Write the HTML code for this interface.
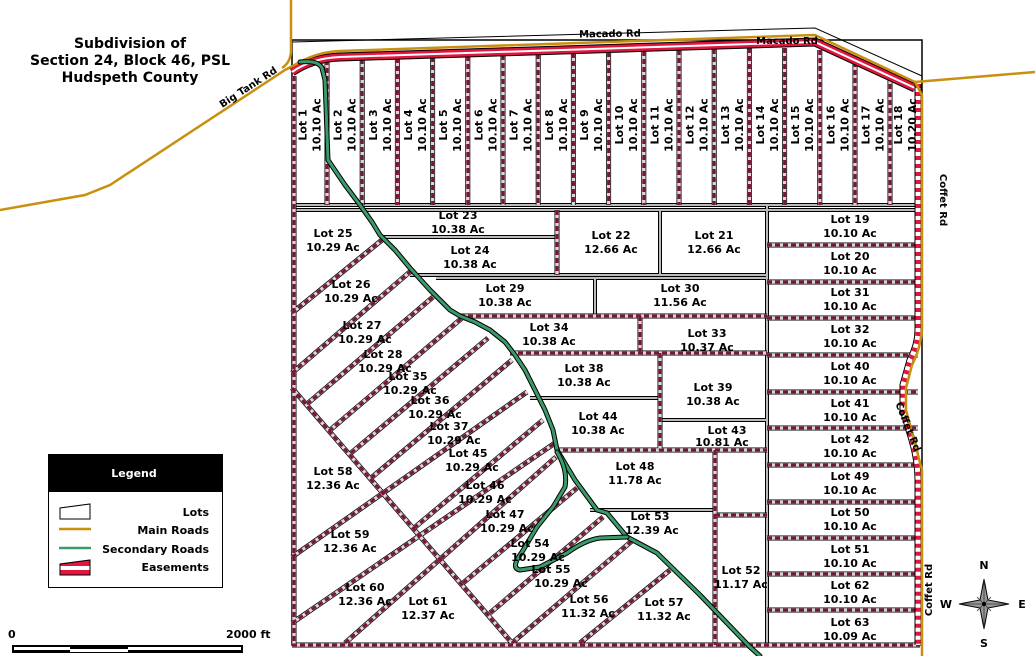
<!DOCTYPE html>
<html><head><meta charset="utf-8"><style>
html,body{margin:0;padding:0;background:#fff;}
svg{display:block;}
text{font-family:"DejaVu Sans","Liberation Sans",sans-serif;font-weight:bold;font-size:11px;fill:#000;}
</style></head><body>
<svg width="1035" height="656" viewBox="0 0 1035 656" xmlns="http://www.w3.org/2000/svg">
<defs>
<g id="eas" fill="none">
  <line x1="294" y1="76" x2="294" y2="645"/>
  <line x1="327" y1="60" x2="327" y2="205"/><line x1="362.2" y1="59" x2="362.2" y2="205"/>
  <line x1="397.4" y1="58" x2="397.4" y2="205"/><line x1="432.6" y1="57" x2="432.6" y2="205"/>
  <line x1="467.8" y1="56" x2="467.8" y2="205"/><line x1="503" y1="55" x2="503" y2="205"/>
  <line x1="538.2" y1="54" x2="538.2" y2="205"/><line x1="573.4" y1="53" x2="573.4" y2="205"/>
  <line x1="608.6" y1="52" x2="608.6" y2="205"/><line x1="643.8" y1="51" x2="643.8" y2="205"/>
  <line x1="679" y1="50" x2="679" y2="205"/><line x1="714.2" y1="49" x2="714.2" y2="205"/>
  <line x1="749.4" y1="48" x2="749.4" y2="205"/><line x1="784.6" y1="48" x2="784.6" y2="205"/>
  <line x1="819.8" y1="50" x2="819.8" y2="205"/><line x1="855" y1="62" x2="855" y2="205"/>
  <line x1="890" y1="76" x2="890" y2="205"/>
  <line x1="767" y1="245" x2="918" y2="245"/><line x1="767" y1="282" x2="918" y2="282"/>
  <line x1="767" y1="318" x2="918" y2="318"/><line x1="767" y1="355" x2="918" y2="355"/>
  <line x1="767" y1="392" x2="918" y2="392"/><line x1="767" y1="428" x2="918" y2="428"/>
  <line x1="767" y1="465" x2="918" y2="465"/><line x1="767" y1="502" x2="918" y2="502"/>
  <line x1="767" y1="538" x2="918" y2="538"/><line x1="767" y1="574" x2="918" y2="574"/>
  <line x1="767" y1="610" x2="918" y2="610"/>
  <line x1="557" y1="210" x2="557" y2="275"/>
  <line x1="460" y1="316" x2="767" y2="316"/>
  <line x1="510" y1="353" x2="767" y2="353"/>
  <line x1="555" y1="450" x2="767" y2="450"/>
  <line x1="715" y1="450" x2="715" y2="645"/>
  <line x1="715" y1="515" x2="767" y2="515"/>
  <line x1="660" y1="353" x2="660" y2="450"/>
  <line x1="640" y1="316" x2="640" y2="353"/>
  <line x1="292" y1="388" x2="512" y2="643"/>
  <line x1="292" y1="313" x2="382" y2="240"/>
  <line x1="292" y1="373" x2="412" y2="270"/>
  <line x1="307" y1="404" x2="433" y2="297"/>
  <line x1="329" y1="431" x2="462" y2="318"/>
  <line x1="351" y1="453" x2="488" y2="338"/>
  <line x1="371" y1="478" x2="512" y2="360"/>
  <line x1="292" y1="557" x2="527" y2="392"/>
  <line x1="414" y1="528" x2="543" y2="420"/>
  <line x1="292" y1="623" x2="555" y2="443"/>
  <line x1="345" y1="643" x2="556" y2="457"/>
  <line x1="463" y1="583" x2="577" y2="488"/>
  <line x1="490" y1="613" x2="603" y2="517"/>
  <line x1="512" y1="643" x2="633" y2="540"/>
  <line x1="580" y1="643" x2="670" y2="570"/>
  <line x1="292" y1="645" x2="920" y2="645"/>
</g>
<g id="lotl" fill="none">
  <line x1="292" y1="205" x2="920" y2="205"/>
  <line x1="292" y1="210" x2="920" y2="210"/>
  <line x1="380" y1="237" x2="557" y2="237"/>
  <line x1="410" y1="275" x2="767" y2="275"/>
  <line x1="660" y1="210" x2="660" y2="275"/>
  <line x1="767" y1="205" x2="767" y2="645"/>
  <line x1="595" y1="278" x2="595" y2="316"/>
  <line x1="530" y1="398" x2="660" y2="398"/>
  <line x1="660" y1="420" x2="767" y2="420"/>
  <line x1="590" y1="510" x2="715" y2="510"/>
  <line x1="436" y1="278" x2="767" y2="278"/>
</g>
</defs>

<path d="M292,645 L292,40 L922,40 L922,645 Z" fill="none" stroke="#000" stroke-width="1.5"/>
<path d="M292,42 L815,28 L922,76" fill="none" stroke="#000" stroke-width="1"/>

<use href="#lotl" stroke="#000" stroke-width="4"/>
<use href="#lotl" stroke="#bbb" stroke-width="2"/>
<use href="#eas" stroke="#000" stroke-width="5"/>
<use href="#eas" stroke="#d8d8d8" stroke-width="3.5"/>
<use href="#eas" stroke="#7a1533" stroke-width="3" stroke-dasharray="5 3"/>

<!-- road easement band (top), below the road -->
<path d="M292,72 Q312,58 340,57 L815,42 L915,88" fill="none" stroke="#000" stroke-width="9"/>
<path d="M292,72 Q312,58 340,57 L815,42 L915,88" fill="none" stroke="#e0163e" stroke-width="7"/>
<path d="M292,72 Q312,58 340,57 L815,42 L915,88" fill="none" stroke="#fff" stroke-width="2"/>
<path d="M918,84 L918,330 Q918,345 910,360 L903,385 L903,410 L912,440 Q918,460 918,480 L918,645" fill="none" stroke="#000" stroke-width="7"/>
<path d="M918,84 L918,330 Q918,345 910,360 L903,385 L903,410 L912,440 Q918,460 918,480 L918,645" fill="none" stroke="#fff" stroke-width="5"/>
<path d="M918,84 L918,330 Q918,345 910,360 L903,385 L903,410 L912,440 Q918,460 918,480 L918,645" fill="none" stroke="#e0163e" stroke-width="5" stroke-dasharray="4 4"/>

<g fill="none" stroke="#c8900e" stroke-width="2.5">
  <path d="M0,210 L85,195 L110,185 L285,70 L300,62 Q318,52 340,51 L815,35 L915,82"/>
  <path d="M291,0 L291,52 Q290,63 282,68"/>
  <path d="M915,82 L1035,72"/>
  <path d="M915,82 L922,95 L922,330 Q920,350 912,365 L906,388 L906,410 Q914,440 922,470 L922,656"/>
</g>

<g fill="none" stroke-linejoin="round" stroke-linecap="round">
  <path d="M300,62 Q318,60 322,68 L325,80 L328,160 L345,185 L360,205 L372,222 L380,235 L395,250 L410,268 L430,290 L450,310 L460,316 L475,322 L490,330 L505,342 L515,355 L525,370 L535,390 L545,410 L553,430 L557,450 L575,480 L597,510 L607,513 L627,537 L657,553 L700,595 L750,647 L760,656" stroke="#000" stroke-width="5"/>
  <path d="M300,62 Q318,60 322,68 L325,80 L328,160 L345,185 L360,205 L372,222 L380,235 L395,250 L410,268 L430,290 L450,310 L460,316 L475,322 L490,330 L505,342 L515,355 L525,370 L535,390 L545,410 L553,430 L557,450 L575,480 L597,510 L607,513 L627,537 L657,553 L700,595 L750,647 L760,656" stroke="#3a9a6a" stroke-width="3"/>
  <path d="M557,452 Q568,470 565,487 L553,507 L537,527 L522,552 Q510,568 520,570 L540,567 L567,553 Q585,540 600,538 L627,537" stroke="#000" stroke-width="5"/>
  <path d="M557,452 Q568,470 565,487 L553,507 L537,527 L522,552 Q510,568 520,570 L540,567 L567,553 Q585,540 600,538 L627,537" stroke="#3a9a6a" stroke-width="3"/>
</g>

<g text-anchor="middle">
<text x="130" y="48" style="font-size:14px">Subdivision of</text>
<text x="130" y="65" style="font-size:14px">Section 24, Block 46, PSL</text>
<text x="130" y="82" style="font-size:14px">Hudspeth County</text>
</g>

<text x="610" y="37" text-anchor="middle" style="font-size:10px" transform="rotate(-1 610 37)">Macado Rd</text>
<text x="787" y="44" text-anchor="middle" style="font-size:10px">Macado Rd</text>
<text x="250" y="90" text-anchor="middle" style="font-size:10px" transform="rotate(-33 250 90)">Big Tank Rd</text>
<text x="940" y="200" text-anchor="middle" style="font-size:10px" transform="rotate(90 940 200)">Coffet Rd</text>
<text x="905" y="428" text-anchor="middle" style="font-size:10px" transform="rotate(68 905 428)">Coffet Rd</text>
<text x="932" y="590" text-anchor="middle" style="font-size:10px" transform="rotate(-90 932 590)">Coffet Rd</text>

<g text-anchor="middle">
<g transform="translate(309.5,125) rotate(-90)"><text x="0" y="-3">Lot 1</text><text x="0" y="11">10.10 Ac</text></g>
<g transform="translate(344.6,125) rotate(-90)"><text x="0" y="-3">Lot 2</text><text x="0" y="11">10.10 Ac</text></g>
<g transform="translate(379.8,125) rotate(-90)"><text x="0" y="-3">Lot 3</text><text x="0" y="11">10.10 Ac</text></g>
<g transform="translate(415,125) rotate(-90)"><text x="0" y="-3">Lot 4</text><text x="0" y="11">10.10 Ac</text></g>
<g transform="translate(450.2,125) rotate(-90)"><text x="0" y="-3">Lot 5</text><text x="0" y="11">10.10 Ac</text></g>
<g transform="translate(485.4,125) rotate(-90)"><text x="0" y="-3">Lot 6</text><text x="0" y="11">10.10 Ac</text></g>
<g transform="translate(520.6,125) rotate(-90)"><text x="0" y="-3">Lot 7</text><text x="0" y="11">10.10 Ac</text></g>
<g transform="translate(555.8,125) rotate(-90)"><text x="0" y="-3">Lot 8</text><text x="0" y="11">10.10 Ac</text></g>
<g transform="translate(591,125) rotate(-90)"><text x="0" y="-3">Lot 9</text><text x="0" y="11">10.10 Ac</text></g>
<g transform="translate(626.2,125) rotate(-90)"><text x="0" y="-3">Lot 10</text><text x="0" y="11">10.10 Ac</text></g>
<g transform="translate(661.4,125) rotate(-90)"><text x="0" y="-3">Lot 11</text><text x="0" y="11">10.10 Ac</text></g>
<g transform="translate(696.6,125) rotate(-90)"><text x="0" y="-3">Lot 12</text><text x="0" y="11">10.10 Ac</text></g>
<g transform="translate(731.8,125) rotate(-90)"><text x="0" y="-3">Lot 13</text><text x="0" y="11">10.10 Ac</text></g>
<g transform="translate(767,125) rotate(-90)"><text x="0" y="-3">Lot 14</text><text x="0" y="11">10.10 Ac</text></g>
<g transform="translate(802.2,125) rotate(-90)"><text x="0" y="-3">Lot 15</text><text x="0" y="11">10.10 Ac</text></g>
<g transform="translate(837.4,125) rotate(-90)"><text x="0" y="-3">Lot 16</text><text x="0" y="11">10.10 Ac</text></g>
<g transform="translate(872.6,125) rotate(-90)"><text x="0" y="-3">Lot 17</text><text x="0" y="11">10.10 Ac</text></g>
<g transform="translate(905,125) rotate(-90)"><text x="0" y="-3">Lot 18</text><text x="0" y="11">10.20 Ac</text></g>
</g>

<g text-anchor="middle">
<text x="850" y="223">Lot 19</text><text x="850" y="237">10.10 Ac</text>
<text x="850" y="260">Lot 20</text><text x="850" y="274">10.10 Ac</text>
<text x="850" y="296">Lot 31</text><text x="850" y="310">10.10 Ac</text>
<text x="850" y="333">Lot 32</text><text x="850" y="347">10.10 Ac</text>
<text x="850" y="370">Lot 40</text><text x="850" y="384">10.10 Ac</text>
<text x="850" y="407">Lot 41</text><text x="850" y="421">10.10 Ac</text>
<text x="850" y="443">Lot 42</text><text x="850" y="457">10.10 Ac</text>
<text x="850" y="480">Lot 49</text><text x="850" y="494">10.10 Ac</text>
<text x="850" y="516">Lot 50</text><text x="850" y="530">10.10 Ac</text>
<text x="850" y="553">Lot 51</text><text x="850" y="567">10.10 Ac</text>
<text x="850" y="589">Lot 62</text><text x="850" y="603">10.10 Ac</text>
<text x="850" y="626">Lot 63</text><text x="850" y="640">10.09 Ac</text>

<text x="333" y="237">Lot 25</text><text x="333" y="251">10.29 Ac</text>
<text x="458" y="219">Lot 23</text><text x="458" y="233">10.38 Ac</text>
<text x="470" y="254">Lot 24</text><text x="470" y="268">10.38 Ac</text>
<text x="611" y="239">Lot 22</text><text x="611" y="253">12.66 Ac</text>
<text x="714" y="239">Lot 21</text><text x="714" y="253">12.66 Ac</text>
<text x="505" y="292">Lot 29</text><text x="505" y="306">10.38 Ac</text>
<text x="680" y="292">Lot 30</text><text x="680" y="306">11.56 Ac</text>
<text x="549" y="331">Lot 34</text><text x="549" y="345">10.38 Ac</text>
<text x="707" y="337">Lot 33</text><text x="707" y="351">10.37 Ac</text>
<text x="584" y="372">Lot 38</text><text x="584" y="386">10.38 Ac</text>
<text x="713" y="391">Lot 39</text><text x="713" y="405">10.38 Ac</text>
<text x="598" y="420">Lot 44</text><text x="598" y="434">10.38 Ac</text>
<text x="727" y="434">Lot 43</text><text x="722" y="446">10.81 Ac</text>
<text x="635" y="470">Lot 48</text><text x="635" y="484">11.78 Ac</text>
<text x="650" y="520">Lot 53</text><text x="652" y="534">12.39 Ac</text>
<text x="741" y="574">Lot 52</text><text x="741" y="588">11.17 Ac</text>
<text x="351" y="288">Lot 26</text><text x="351" y="302">10.29 Ac</text>
<text x="362" y="329">Lot 27</text><text x="365" y="343">10.29 Ac</text>
<text x="383" y="358">Lot 28</text><text x="385" y="372">10.29 Ac</text>
<text x="408" y="380">Lot 35</text><text x="410" y="394">10.29 Ac</text>
<text x="430" y="404">Lot 36</text><text x="435" y="418">10.29 Ac</text>
<text x="449" y="430">Lot 37</text><text x="454" y="444">10.29 Ac</text>
<text x="468" y="457">Lot 45</text><text x="472" y="471">10.29 Ac</text>
<text x="485" y="489">Lot 46</text><text x="485" y="503">10.29 Ac</text>
<text x="505" y="518">Lot 47</text><text x="507" y="532">10.29 Ac</text>
<text x="530" y="547">Lot 54</text><text x="538" y="561">10.29 Ac</text>
<text x="551" y="573">Lot 55</text><text x="561" y="587">10.29 Ac</text>
<text x="589" y="603">Lot 56</text><text x="588" y="617">11.32 Ac</text>
<text x="664" y="606">Lot 57</text><text x="664" y="620">11.32 Ac</text>
<text x="333" y="475">Lot 58</text><text x="333" y="489">12.36 Ac</text>
<text x="350" y="538">Lot 59</text><text x="350" y="552">12.36 Ac</text>
<text x="365" y="591">Lot 60</text><text x="365" y="605">12.36 Ac</text>
<text x="428" y="605">Lot 61</text><text x="428" y="619">12.37 Ac</text>
</g>

<rect x="48.5" y="454.5" width="174" height="133" fill="#fff" stroke="#000" stroke-width="1"/>
<rect x="48" y="454" width="175" height="38" fill="#000"/>
<text x="134" y="477" text-anchor="middle" style="font-size:11px;fill:#fff">Legend</text>
<path d="M60,519 L60,508 L90,504 L90,519 Z" fill="#fff" stroke="#000" stroke-width="1"/>
<line x1="59" y1="529" x2="91" y2="529" stroke="#c8900e" stroke-width="2.5"/>
<line x1="59" y1="548" x2="91" y2="548" stroke="#3a9a6a" stroke-width="2.5"/>
<path d="M60,575 L60,564 L90,560 L90,575 Z" fill="#e0163e" stroke="#000" stroke-width="1"/>
<rect x="60.5" y="566" width="29" height="4" fill="#fff"/>
<g text-anchor="end">
<text x="209" y="516">Lots</text>
<text x="209" y="534">Main Roads</text>
<text x="209" y="553">Secondary Roads</text>
<text x="209" y="571">Easements</text>
</g>

<text x="8" y="638">0</text>
<text x="226" y="638">2000 ft</text>
<rect x="12" y="645" width="231" height="8" fill="#000"/>
<rect x="14" y="647" width="56" height="3" fill="#fff"/>
<rect x="128" y="647" width="113" height="3" fill="#fff"/>
<rect x="70" y="649" width="58" height="3" fill="#fff"/>

<g transform="translate(984,604)">
<path d="M0,-25 L4,-4 L25,0 L4,4 L0,25 L-4,4 L-25,0 L-4,-4 Z" fill="#999" stroke="#000" stroke-width="1"/>
<path d="M0,-25 L0,25 M-25,0 L25,0" stroke="#333" stroke-width="0.8"/>
<path d="M-7,-7 L0,0 L7,-7 M-7,7 L0,0 L7,7" stroke="#333" stroke-width="0.8" fill="none"/>
<circle cx="0" cy="0" r="2" fill="#000"/>
</g>
<text x="984" y="569" text-anchor="middle">N</text>
<text x="984" y="647" text-anchor="middle">S</text>
<text x="946" y="608" text-anchor="middle">W</text>
<text x="1022" y="608" text-anchor="middle">E</text>
</svg>
</body></html>
